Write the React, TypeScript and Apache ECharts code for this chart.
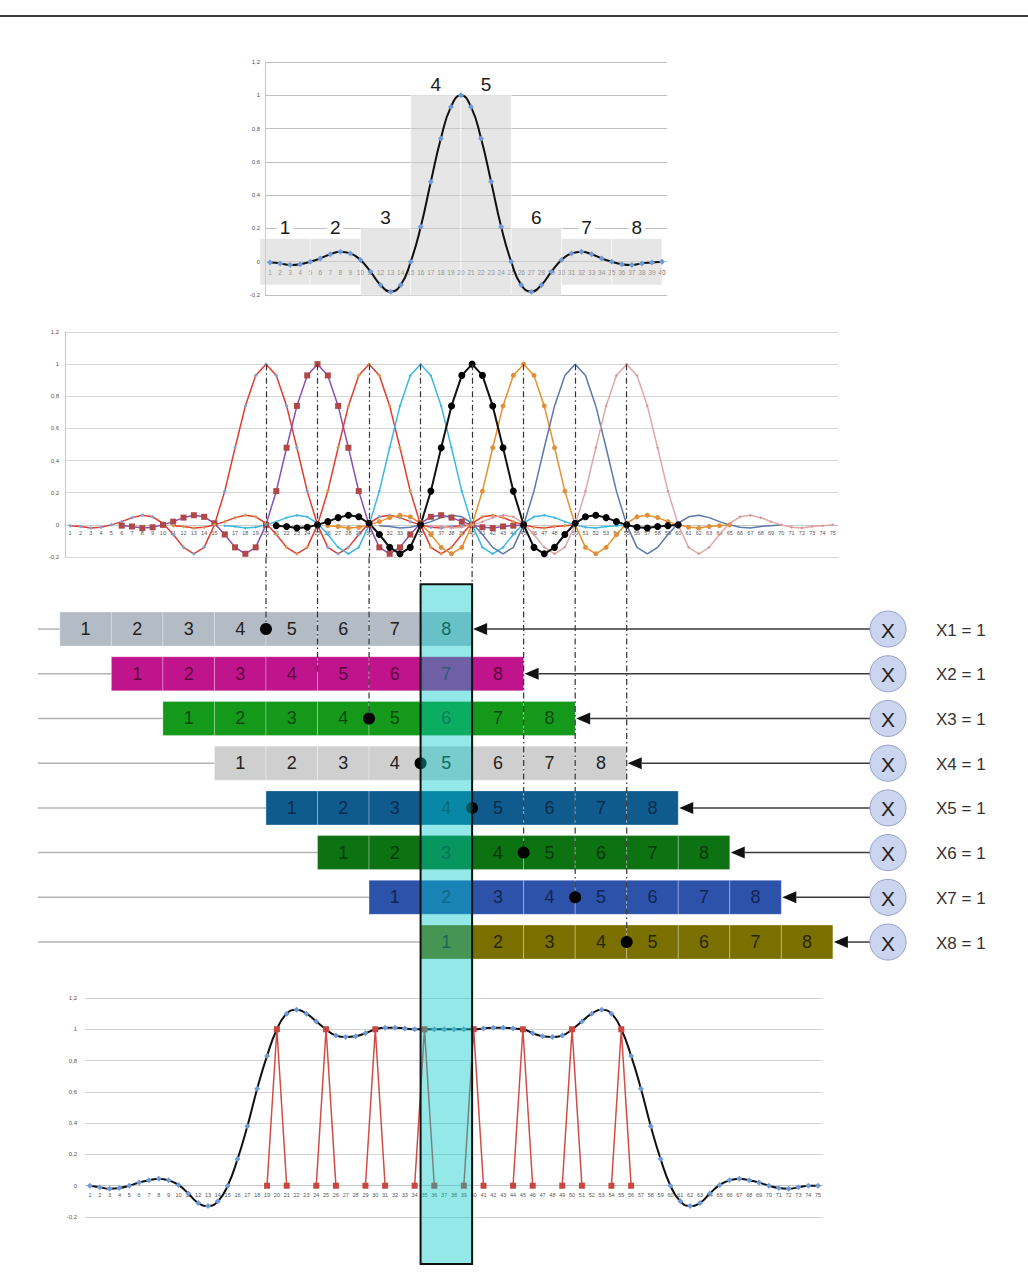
import React, { useEffect, useRef } from "react";
import * as echarts from "echarts";

// ---------- DATA ----------
const topCategories = Array.from({ length: 40 }, (_, i) => String(i + 1));
const midCategories = Array.from({ length: 75 }, (_, i) => String(i + 1));
const bottomCategories = Array.from({ length: 75 }, (_, i) => String(i + 1));

// windowed-sinc kernel (samples 1..40, peak at 20)
const kernel = [
  -0.005, -0.01, -0.02, -0.015, 0, 0.02, 0.045, 0.06, 0.05, 0.01,
  -0.06, -0.14, -0.18, -0.14, 0, 0.21, 0.48, 0.74, 0.93, 1.0,
  0.93, 0.74, 0.48, 0.21, 0, -0.14, -0.18, -0.14, -0.06, 0.01,
  0.05, 0.06, 0.045, 0.02, 0, -0.015, -0.02, -0.01, -0.005, 0,
];
const kernelPeak = 20;

// segments of the kernel (grey blocks, 5 samples each)
const blockLabels = ["1", "2", "3", "4", "5", "6", "7", "8"];
const blockTops = [0.14, 0.14, 0.2, 1.0, 1.0, 0.2, 0.14, 0.14];
const blockBottoms = [-0.14, -0.14, -0.2, -0.2, -0.2, -0.2, -0.14, -0.14];
const blockSpan = 5;

// shifted kernels in the middle chart
const peaks = [20, 25, 30, 35, 40, 45, 50, 55];

// shift-register rows
const rowStarts = [0, 5, 10, 15, 20, 25, 30, 35];
const cellLabels = ["1", "2", "3", "4", "5", "6", "7", "8"];
const cellSpan = 5;
const rowLabels = ["X1 = 1", "X2 = 1", "X3 = 1", "X4 = 1", "X5 = 1", "X6 = 1", "X7 = 1", "X8 = 1"];
const rowDots = [true, false, true, true, true, true, true, true];
const highlightRange = [35, 40];

// summed response (bottom chart)
const sumValues = [
  0, -0.01, -0.02, -0.015, 0, 0.02, 0.035, 0.045, 0.035, 0.005,
  -0.05, -0.11, -0.13, -0.1, 0, 0.17, 0.38, 0.62, 0.83, 1.0,
  1.1, 1.125, 1.1, 1.05, 1.0, 0.96, 0.95, 0.955, 0.975, 1.0,
  1.01, 1.01, 1.005, 1.0, 1.0, 1.0, 1.0, 1.0, 1.0, 1.0,
  1.005, 1.01, 1.01, 1.005, 1.0, 0.975, 0.955, 0.95, 0.96, 1.0,
  1.05, 1.1, 1.125, 1.1, 1.0, 0.83, 0.62, 0.38, 0.17, 0,
  -0.1, -0.13, -0.11, -0.05, 0.005, 0.035, 0.045, 0.035, 0.02, 0,
  -0.015, -0.02, -0.01, 0, 0,
];
const stemPeaks = [20, 25, 30, 35, 40, 45, 50, 55];

// ---------- STYLES / LAYOUT ----------
const FONT = '"Liberation Sans", Arial, sans-serif';
const midLineColors = ["#e23c30", "#8a4fb0", "#e63b2e", "#3cb8e0", "#111111", "#e8902e", "#5a78a8", "#e2a6a6"];
const midMarkColors = ["#7aa6d8", "#b04848", "#d0a050", "#3cb8e0", "#000000", "#e0903a", "#5a78a8", "#d49494"];
const midSymbols = ["diamond", "rect", "diamond", "diamond", "circle", "circle", "none", "diamond"];
const midSymbolSizes = [4, 6, 4, 3, 7, 5, 0, 3];
const midLineWidths = [1.5, 1.5, 1.5, 1.5, 2, 1.5, 1.5, 1.5];
const midOrder = [0, 1, 2, 3, 5, 6, 7, 4];

const rowColors = ["#b3bcc5", "#c0148c", "#14991a", "#cfcfcf", "#0f5b8e", "#0c7212", "#2c52aa", "#7a7000"];
const rowTextColors = ["#222222", "#5c0840", "#0b4a0c", "#222222", "#0a2d4a", "#073a0a", "#122555", "#2a2600"];

const Y_MIN = -0.2;
const Y_MAX = 1.2;
const gridTop = { left: 265, top: 62, width: 402, height: 233 };
const gridMid = { left: 65, top: 332, width: 773, height: 225 };
const gridBars = { left: 65, top: 557.5, width: 773, height: 706.5 };
const gridBottom = { left: 85, top: 998, width: 738, height: 219 };

const BAR_Y_MIN = -0.6;
const BAR_Y_MAX = 15.2;
const ROW_H = 34;
const LEFT_X = 38;
const CIRCLE_X = 888;
const CIRCLE_R = 18;
const LABEL_X = 936;

const fmt = (v: number) => String(Math.round(v * 10) / 10).replace(".", ",");
// distance from the bottom of a grid to its zero line
const zeroOffset = (h: number) => -(h * (0 - Y_MIN)) / (Y_MAX - Y_MIN);

function valueYAxis(gridIndex: number, splitColor: string, margin: number, showLine: boolean) {
  return {
    type: "value",
    gridIndex,
    min: Y_MIN,
    max: Y_MAX,
    interval: 0.2,
    axisLine: { show: showLine, lineStyle: { color: "#c8c8c8" } },
    axisTick: { show: false },
    splitLine: { lineStyle: { color: splitColor, width: 1.2 } },
    axisLabel: { formatter: fmt, fontSize: 6, color: "#555", margin, fontFamily: FONT },
  };
}

function catXAxis(gridIndex: number, data: string[], fontSize: number, margin: number, gridH: number) {
  return {
    type: "category",
    gridIndex,
    data,
    boundaryGap: true,
    position: "bottom",
    offset: zeroOffset(gridH),
    axisLine: { onZero: true, lineStyle: { color: "#c8c8c8" } },
    axisTick: { show: false },
    axisLabel: { interval: 0, fontSize, color: "#555", margin, fontFamily: FONT },
  };
}

function txt(x: number, y: number, text: string, fill: string, size: number, align = "center", vAlign = "middle", extra: any = {}) {
  return {
    type: "text",
    x,
    y,
    style: {
      text,
      fill,
      font: `${size}px ${FONT}`,
      align,
      verticalAlign: vAlign,
      textAlign: align,
      textVerticalAlign: vAlign,
      ...extra,
    },
  };
}

export default function App() {
  const ref = useRef<HTMLDivElement>(null);

  useEffect(() => {
    if (!ref.current) return;
    const chart = echarts.init(ref.current, undefined, { renderer: "svg" });

    const midSeriesAll = peaks.map((p, k) => ({
      type: "line",
      xAxisIndex: 2,
      yAxisIndex: 1,
      z: 2,
      data: midCategories.map((_, i) => {
        const j = i + 1 - (p - kernelPeak) - 1;
        return j >= 0 && j < kernel.length ? kernel[j] : null;
      }),
      connectNulls: false,
      showAllSymbol: true,
      symbol: midSymbols[k],
      symbolSize: midSymbolSizes[k],
      itemStyle: { color: midMarkColors[k] },
      lineStyle: { color: midLineColors[k], width: midLineWidths[k] },
      markLine: {
        silent: true,
        symbol: ["none", "none"],
        label: { show: false },
        lineStyle: { type: [6, 3, 1.5, 3], color: "#333", width: 1.2 },
        data: [[{ coord: [String(p), 1] }, { coord: [String(p), Y_MIN] }]],
      },
    }));
    const midSeries = midOrder.map((i) => midSeriesAll[i]);

    const stemData = bottomCategories.map((_, i) => {
      const c = i + 1;
      for (const p of stemPeaks) {
        if (c === p) return 1;
        if (c === p - 1 || c === p + 1) return 0;
      }
      return null;
    });

    const option: any = {
      animation: false,
      backgroundColor: "#ffffff",
      textStyle: { fontFamily: FONT },
      graphic: [
        { type: "line", shape: { x1: 0, y1: 16, x2: 1028, y2: 16 }, style: { stroke: "#000", lineWidth: 1.5 } },
      ],
      grid: [
        { ...gridTop, containLabel: false, outerBoundsMode: "none" },
        { ...gridMid, containLabel: false, outerBoundsMode: "none" },
        { ...gridBars, containLabel: false, outerBoundsMode: "none" },
        { ...gridBottom, containLabel: false, outerBoundsMode: "none" },
      ],
      xAxis: [
        catXAxis(0, topCategories, 6.5, 7, gridTop.height),
        { type: "value", gridIndex: 0, min: 0.5, max: 40.5, show: false },
        catXAxis(1, midCategories, 5.5, 5, gridMid.height),
        { type: "value", gridIndex: 2, min: 0.5, max: 75.5, show: false },
        catXAxis(3, bottomCategories, 5.5, 6, gridBottom.height),
      ],
      yAxis: [
        valueYAxis(0, "#bfbfbf", 5, true),
        valueYAxis(1, "#d6d6d6", 6, true),
        { type: "value", gridIndex: 2, inverse: true, min: BAR_Y_MIN, max: BAR_Y_MAX, show: false },
        valueYAxis(3, "#d3d3d3", 8, false),
      ],
      series: [
        // grey kernel segments
        {
          type: "custom",
          xAxisIndex: 1,
          yAxisIndex: 0,
          z: 1,
          clip: false,
          silent: true,
          data: blockTops.map((t, k) => [k * blockSpan, (k + 1) * blockSpan, blockBottoms[k], t]),
          renderItem: (params: any, api: any) => {
            const k = params.dataIndex;
            const p0 = api.coord([api.value(0), api.value(3)]);
            const p1 = api.coord([api.value(1), api.value(2)]);
            return {
              type: "group",
              children: [
                {
                  type: "rect",
                  shape: { x: p0[0], y: p0[1], width: p1[0] - p0[0], height: p1[1] - p0[1] },
                  style: { fill: "rgba(205,205,205,0.5)", stroke: "rgba(255,255,255,0.7)", lineWidth: 0.8 },
                },
                txt((p0[0] + p1[0]) / 2, p0[1] - 1, blockLabels[k], "#1a1a1a", 19, "center", "bottom", {
                  backgroundColor: "#ffffff",
                  padding: [0, 3, 0, 3],
                }),
              ],
            };
          },
        },
        // kernel
        {
          type: "line",
          xAxisIndex: 0,
          yAxisIndex: 0,
          z: 3,
          data: kernel,
          smooth: true,
          showAllSymbol: true,
          symbol: "diamond",
          symbolSize: 6,
          itemStyle: { color: "#6f9ad8" },
          lineStyle: { color: "#111", width: 2 },
        },
        ...midSeries,
        // shift-register rows
        {
          type: "custom",
          xAxisIndex: 3,
          yAxisIndex: 2,
          z: 4,
          clip: false,
          silent: true,
          data: rowStarts.map((s, k) => [s, k + 1]),
          renderItem: (params: any, api: any) => {
            const k = params.dataIndex;
            const start = api.value(0);
            const row = api.value(1);
            const [xs, cy] = api.coord([start, row]);
            const xe = api.coord([start + cellLabels.length * cellSpan, row])[0];
            const children: any[] = [];
            children.push({
              type: "line",
              shape: { x1: LEFT_X, y1: cy, x2: xs, y2: cy },
              style: { stroke: "#b3b3b3", lineWidth: 1.5 },
            });
            cellLabels.forEach((lab, j) => {
              const x0 = api.coord([start + j * cellSpan, row])[0];
              const x1 = api.coord([start + (j + 1) * cellSpan, row])[0];
              children.push({
                type: "rect",
                shape: { x: x0, y: cy - ROW_H / 2, width: x1 - x0, height: ROW_H },
                style: { fill: rowColors[k], stroke: "rgba(255,255,255,0.28)", lineWidth: 1 },
              });
              children.push(txt((x0 + x1) / 2, cy, lab, rowTextColors[k], 18));
            });
            const ah = 15;
            children.push({
              type: "line",
              shape: { x1: xe + ah, y1: cy, x2: CIRCLE_X - CIRCLE_R, y2: cy },
              style: { stroke: "#3a3a3a", lineWidth: 1.5 },
            });
            children.push({
              type: "polygon",
              shape: { points: [[xe + 1, cy], [xe + ah, cy - 6], [xe + ah, cy + 6]] },
              style: { fill: "#111" },
            });
            children.push({
              type: "circle",
              shape: { cx: CIRCLE_X, cy, r: CIRCLE_R },
              style: { fill: "#ccd5ef", stroke: "#94a1c9", lineWidth: 1 },
            });
            children.push(txt(CIRCLE_X, cy + 1, "X", "#222", 21));
            children.push(txt(LABEL_X, cy + 1, rowLabels[k], "#333", 17, "left"));
            return { type: "group", children };
          },
        },
        // dash-dot guides and peak dots
        {
          type: "custom",
          xAxisIndex: 3,
          yAxisIndex: 2,
          z: 5,
          clip: false,
          silent: true,
          data: peaks.map((p, k) => [p, k + 1]),
          renderItem: (params: any, api: any) => {
            const k = params.dataIndex;
            const [x, cy] = api.coord([api.value(0), api.value(1)]);
            const top = params.coordSys.y;
            const children: any[] = [
              {
                type: "line",
                shape: { x1: x, y1: top, x2: x, y2: cy },
                style: { stroke: "#333", lineWidth: 1.2, lineDash: [6, 3, 1.5, 3] },
              },
            ];
            if (rowDots[k]) {
              children.push({ type: "circle", shape: { cx: x, cy, r: 6 }, style: { fill: "#000" } });
            }
            return { type: "group", children };
          },
        },
        // summed response
        {
          type: "line",
          xAxisIndex: 4,
          yAxisIndex: 3,
          z: 2,
          data: sumValues,
          smooth: true,
          showAllSymbol: true,
          symbol: "diamond",
          symbolSize: 6,
          itemStyle: { color: "#6f9ad8" },
          lineStyle: { color: "#111", width: 2 },
        },
        {
          type: "line",
          xAxisIndex: 4,
          yAxisIndex: 3,
          z: 3,
          data: stemData,
          connectNulls: false,
          showAllSymbol: true,
          symbol: "rect",
          symbolSize: 6,
          itemStyle: { color: "#c8463f" },
          lineStyle: { color: "#d24c47", width: 1.5 },
        },
        // highlight column
        {
          type: "custom",
          xAxisIndex: 3,
          yAxisIndex: 2,
          z: 10,
          clip: false,
          silent: true,
          data: [[highlightRange[0], highlightRange[1]]],
          renderItem: (params: any, api: any) => {
            const a = api.coord([api.value(0), 0]);
            const b = api.coord([api.value(1), BAR_Y_MAX]);
            return {
              type: "rect",
              shape: { x: a[0], y: a[1], width: b[0] - a[0], height: b[1] - a[1] },
              style: { fill: "rgba(0,200,200,0.42)", stroke: "#111", lineWidth: 2 },
            };
          },
        },
      ],
    };

    chart.setOption(option);
    return () => chart.dispose();
  }, []);

  return (
    <div
      ref={ref}
      style={{ position: "absolute", left: 0, top: 0, width: 1028, height: 1275, background: "#fff" }}
    />
  );
}
